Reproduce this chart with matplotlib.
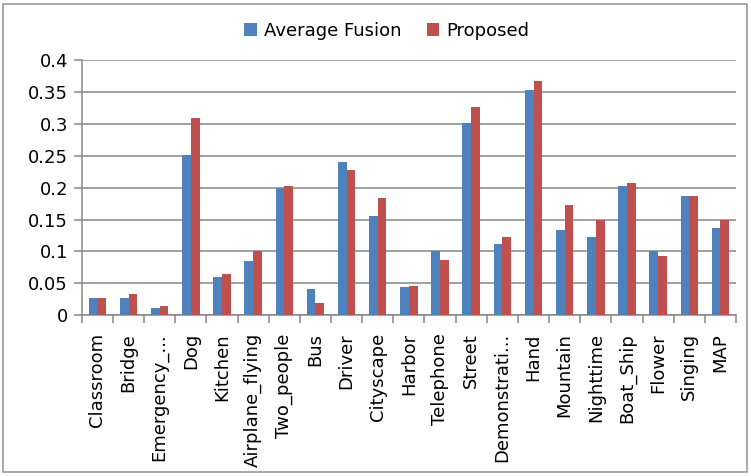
import matplotlib
matplotlib.use("Agg")
import matplotlib.pyplot as plt
from matplotlib.patches import Rectangle
import numpy as np

categories = ["Classroom", "Bridge", "Emergency_...", "Dog", "Kitchen",
              "Airplane_flying", "Two_people", "Bus", "Driver", "Cityscape",
              "Harbor", "Telephone", "Street", "Demonstrati...", "Hand",
              "Mountain", "Nighttime", "Boat_Ship", "Flower", "Singing", "MAP"]
average_fusion = [0.027, 0.027, 0.011, 0.252, 0.060, 0.085, 0.199, 0.041,
                  0.241, 0.156, 0.044, 0.101, 0.301, 0.112, 0.354, 0.134,
                  0.123, 0.203, 0.101, 0.187, 0.137]
proposed = [0.027, 0.033, 0.014, 0.310, 0.065, 0.100, 0.203, 0.019,
            0.228, 0.184, 0.046, 0.086, 0.327, 0.123, 0.368, 0.173,
            0.149, 0.208, 0.093, 0.187, 0.149]
y_ticks = [0, 0.05, 0.1, 0.15, 0.2, 0.25, 0.3, 0.35, 0.4]
y_tick_labels = ["0", "0.05", "0.1", "0.15", "0.2", "0.25", "0.3", "0.35", "0.4"]

plt.rcParams["font.family"] = ["DejaVu Sans"]

fig = plt.figure(figsize=(7.51, 4.76), dpi=100)
ax = fig.add_axes([0.109, 0.338, 0.871, 0.535])

x = np.arange(len(categories))
w = 0.28
blue = "#4F81BD"
red = "#C0504D"
ax.bar(x - w / 2, average_fusion, width=w, color=blue, label="Average Fusion", zorder=3)
ax.bar(x + w / 2, proposed, width=w, color=red, label="Proposed", zorder=3)

ax.set_xlim(-0.5, len(categories) - 0.5)
ax.set_ylim(0, 0.4)
ax.set_yticks(y_ticks)
ax.set_yticklabels(y_tick_labels, fontsize=13)
ax.yaxis.grid(True, color="#868686", linewidth=1.1, zorder=0)

ax.set_xticks(x)
ax.set_xticklabels(categories, rotation=90, fontsize=13)
ax.tick_params(axis="x", length=0, pad=13)
ax.set_xticks(np.arange(-0.5, len(categories), 1.0), minor=True)
ax.tick_params(axis="x", which="minor", length=6, color="#868686", width=1.1)
ax.tick_params(axis="y", length=6, color="#868686", width=1.1, pad=4)

for s in ["top", "right"]:
    ax.spines[s].set_visible(False)
for s in ["left", "bottom"]:
    ax.spines[s].set_color("#868686")
    ax.spines[s].set_linewidth(1.1)

fig.legend(loc="center", bbox_to_anchor=(0.515, 0.935), ncol=2, frameon=False,
           fontsize=13, handlelength=0.7, handleheight=0.7, columnspacing=1.4,
           handletextpad=0.4)

fig.patches.append(Rectangle((3 / 751, 4 / 476), 744 / 751, 468 / 476,
                             transform=fig.transFigure, fill=False,
                             edgecolor="#9a9a9a", linewidth=1.2))

fig.savefig("out.png", dpi=100)
